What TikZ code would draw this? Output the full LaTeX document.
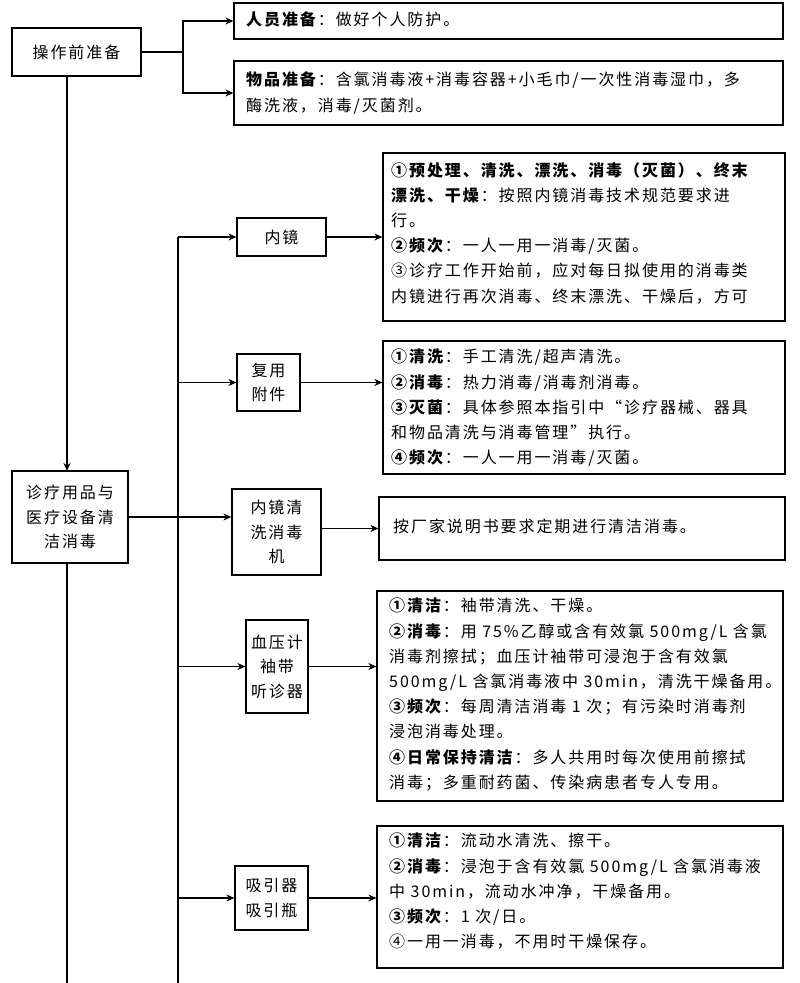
\documentclass[tikz,border=0pt]{standalone}
\usepackage{fontspec}
\setmainfont{Noto Sans CJK SC}[LetterSpace=12]
\usetikzlibrary{arrows.meta}
\begin{document}
\begin{tikzpicture}[x=1pt,y=-1pt,
  box/.style={draw,line width=1.2pt,inner sep=0pt},
  lbl/.style={font=\fontsize{16}{24.5}\selectfont,align=center},
  txt/.style={anchor=north west,inner sep=0pt,font=\fontsize{16}{25.2}\selectfont,align=left},
  arr/.style={line width=1.2pt,-{Stealth[length=8pt,width=7pt]}},
  ln/.style={line width=1.2pt}]
\useasboundingbox (0,0) rectangle (800,983);
% left boxes
\node[box,lbl,minimum width=129,minimum height=48] (pre) at (76.5,52) {操作前准备};
\node[box,lbl,minimum width=116,minimum height=92] (main) at (70,517) {诊疗用品与\\医疗设备清\\洁消毒};
% top right boxes
\node[box,minimum width=549,minimum height=36] (p1) at (508.5,21) {};
\node[txt] at (246,12) {\textbf{人员准备}：做好个人防护。};
\node[box,minimum width=549,minimum height=64] (p2) at (508.5,93) {};
\node[txt] at (246,72) {\textbf{物品准备}：含氯消毒液+消毒容器+小毛巾/一次性消毒湿巾，多\\酶洗液，消毒/灭菌剂。};
\coordinate (b1) at (183,52);
\draw[ln] (pre.east) -- (b1);
\draw[arr] (b1) |- (p1.west);
\draw[arr] (b1) |- (p2.west);
% main trunk
\coordinate (mt) at (67,76);
\draw[arr] (mt) -- (67,471);
\coordinate (mb) at (67,983);
\draw[ln] (67,563) -- (mb);
% mid boxes
\node[box,lbl,minimum width=89,minimum height=38] (m1) at (281.5,237) {内镜};
\node[box,lbl,minimum width=63,minimum height=57] (m2) at (268.5,382.5) {复用\\附件};
\node[box,lbl,minimum width=89,minimum height=86] (m3) at (276.5,532) {内镜清\\洗消毒\\机};
\node[box,lbl,minimum width=62,minimum height=93] (m4) at (277,666.5) {血压计\\袖带\\听诊器};
\node[box,lbl,minimum width=73,minimum height=64] (m5) at (271.5,898) {吸引器\\吸引瓶};
% branch trunk
\coordinate (t1) at (178,237);
\coordinate (t2) at (178,983);
\draw[ln] (t1) -- (t2);
\draw[arr] (main.east) -- (main.east -| m3.west);
\draw[arr] (t1) -- (m1.west);
\draw[arr] (178,382.5) -- (m2.west);
\draw[arr] (178,666.5) -- (m4.west);
\draw[arr] (178,898) -- (m5.west);
% right boxes
\node[box,minimum width=402,minimum height=168] (r1) at (584,237) {};
\node[txt] at (391,162) {\textbf{①预处理、清洗、漂洗、消毒（灭菌）、终末}\\\textbf{漂洗、干燥}：按照内镜消毒技术规范要求进\\行。\\\textbf{②频次}：一人一用一消毒/灭菌。\\③诊疗工作开始前，应对每日拟使用的消毒类\\内镜进行再次消毒、终末漂洗、干燥后，方可};
\node[box,minimum width=402,minimum height=133] (r2) at (584,407.5) {};
\node[txt] at (391,349) {\textbf{①清洗}：手工清洗/超声清洗。\\\textbf{②消毒}：热力消毒/消毒剂消毒。\\\textbf{③灭菌}：具体参照本指引中“诊疗器械、器具\\和物品清洗与消毒管理”执行。\\\textbf{④频次}：一人一用一消毒/灭菌。};
\node[box,minimum width=406,minimum height=63] (r3) at (582,528.5) {};
\node[txt] at (393,519) {按厂家说明书要求定期进行清洁消毒。};
\node[box,minimum width=406,minimum height=210] (r4) at (580,696) {};
\node[txt] at (389,598) {\textbf{①清洁}：袖带清洗、干燥。\\\textbf{②消毒}：用 75\%乙醇或含有效氯 500mg/L 含氯\\消毒剂擦拭；血压计袖带可浸泡于含有效氯\\500mg/L 含氯消毒液中 30min，清洗干燥备用。\\\textbf{③频次}：每周清洁消毒 1 次；有污染时消毒剂\\浸泡消毒处理。\\\textbf{④日常保持清洁}：多人共用时每次使用前擦拭\\消毒；多重耐药菌、传染病患者专人专用。};
\node[box,minimum width=406,minimum height=142] (r5) at (580,897) {};
\node[txt] at (389,833) {\textbf{①清洁}：流动水清洗、擦干。\\\textbf{②消毒}：浸泡于含有效氯 500mg/L 含氯消毒液\\中 30min，流动水冲净，干燥备用。\\\textbf{③频次}：1 次/日。\\④一用一消毒，不用时干燥保存。};
\draw[arr] (m1.east) -- (m1.east -| r1.west);
\draw[arr] (m2.east) -- (m2.east -| r2.west);
\draw[arr] (m3.east |- r3.west) -- (r3.west);
\draw[arr] (m4.east) -- (m4.east -| r4.west);
\draw[arr] (m5.east) -- (m5.east -| r5.west);
\end{tikzpicture}
\end{document}
